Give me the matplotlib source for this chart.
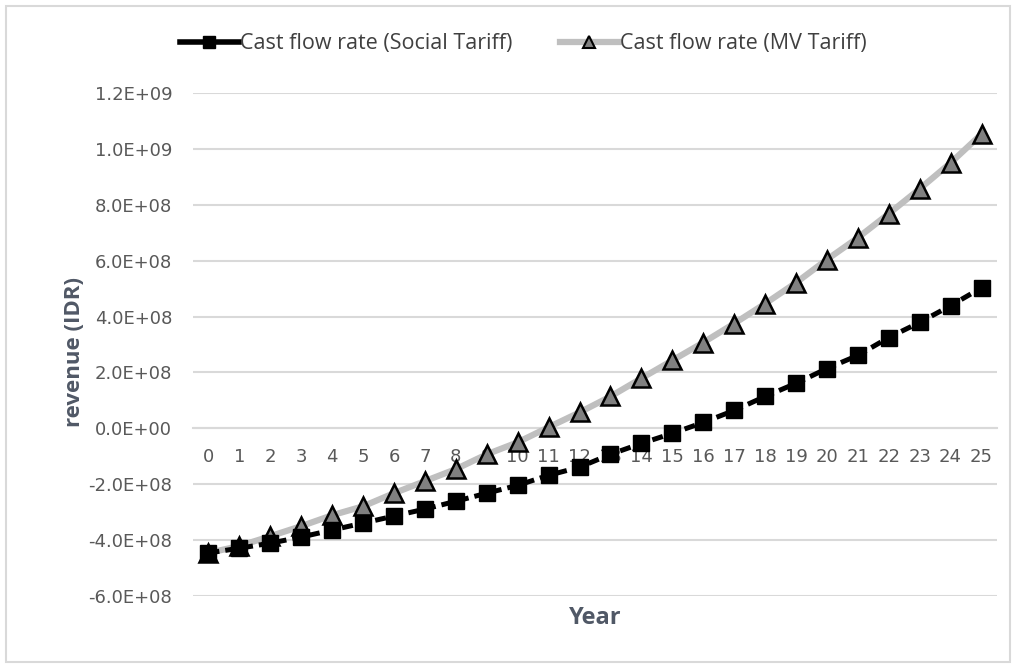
import matplotlib
matplotlib.use("Agg")
import matplotlib.pyplot as plt
from matplotlib.patches import Rectangle
from matplotlib.lines import Line2D

# Cash flow per year (IDR)
years = list(range(26))
social_tariff = [-4.46e8, -4.29e8, -4.11e8, -3.89e8, -3.64e8, -3.39e8, -3.14e8, -2.89e8,
                 -2.61e8, -2.32e8, -2.04e8, -1.68e8, -1.39e8, -0.93e8, -0.54e8, -0.18e8,
                 0.21e8, 0.64e8, 1.14e8, 1.61e8, 2.14e8, 2.61e8, 3.25e8, 3.79e8, 4.39e8, 5.03e8]
mv_tariff = [-4.46e8, -4.21e8, -3.86e8, -3.50e8, -3.11e8, -2.79e8, -2.32e8, -1.89e8,
             -1.46e8, -0.93e8, -0.50e8, 0.04e8, 0.57e8, 1.14e8, 1.79e8, 2.43e8,
             3.07e8, 3.75e8, 4.46e8, 5.21e8, 6.04e8, 6.82e8, 7.68e8, 8.57e8, 9.50e8, 1.053e9]
y_ticks = [-6e8, -4e8, -2e8, 0, 2e8, 4e8, 6e8, 8e8, 1.0e9, 1.2e9]
y_labels = ["-6.0E+08", "-4.0E+08", "-2.0E+08", "0.0E+00", "2.0E+08", "4.0E+08",
            "6.0E+08", "8.0E+08", "1.0E+09", "1.2E+09"]

plt.rcParams['font.family'] = ['Open Sans', 'DejaVu Sans']

fig = plt.figure(figsize=(10.16, 6.64), dpi=100)
ax = fig.add_axes([193 / 1016, 1 - 596 / 664, 804 / 1016, 503 / 664])

# frame around the whole chart
fig.patches.append(Rectangle((6 / 1016, 2 / 664), 1004 / 1016, 656 / 664,
                             transform=fig.transFigure, fill=False,
                             edgecolor="#D9D9D9", linewidth=1.5))

ax.plot(years, mv_tariff, color="#BFBFBF", linewidth=4.5, marker="^",
        markersize=13, markerfacecolor="#808080", markeredgecolor="black",
        markeredgewidth=1.8, zorder=3)
ax.plot(years, social_tariff, color="black", linewidth=3.6, linestyle=(0, (2.2, 1.2)),
        marker="s", markersize=12, markerfacecolor="black", markeredgecolor="black",
        zorder=4)

ax.set_xlim(-0.5, 25.5)
ax.set_ylim(-6e8, 1.2e9)
ax.set_yticks(y_ticks)
ax.set_yticklabels(y_labels)
ax.set_xticks(years)
ax.set_xticklabels([str(y) for y in years])
ax.grid(axis="y", color="#D9D9D9", linewidth=1.5)
ax.set_axisbelow(True)

for side in ["top", "right", "left"]:
    ax.spines[side].set_visible(False)
ax.spines["bottom"].set_position(("data", 0))
ax.spines["bottom"].set_color("#D9D9D9")
ax.spines["bottom"].set_linewidth(1.5)

ax.tick_params(axis="both", length=0, labelsize=13, labelcolor="#595959")
for lbl in ax.get_xticklabels() + ax.get_yticklabels():
    lbl.set_family("DejaVu Sans")
ax.tick_params(axis="y", pad=15)
ax.tick_params(axis="x", pad=14)

ax.set_ylabel("revenue (IDR)", fontsize=16, fontweight="bold", color="#505866")
ax.yaxis.set_label_coords(-0.134, 0.485)
ax.set_xlabel("Year", fontsize=17, fontweight="bold", color="#505866")
ax.xaxis.set_label_coords(0.5, -0.02)

handles = [
    Line2D([], [], color="black", linewidth=4, marker="s", markersize=8,
           markerfacecolor="black"),
    Line2D([], [], color="#BFBFBF", linewidth=4.5, marker="^", markersize=8,
           markerfacecolor="#808080", markeredgecolor="black", markeredgewidth=1.5),
]
fig.legend(handles, ["Cast flow rate (Social Tariff)", "Cast flow rate (MV Tariff)"],
           loc="center", bbox_to_anchor=(0.515, 1 - 44 / 664), ncol=2, frameon=False,
           fontsize=15.5, handlelength=2.75, handletextpad=0.05, columnspacing=2.2,
           labelcolor="#404040")

fig.savefig("out.png", dpi=100)
